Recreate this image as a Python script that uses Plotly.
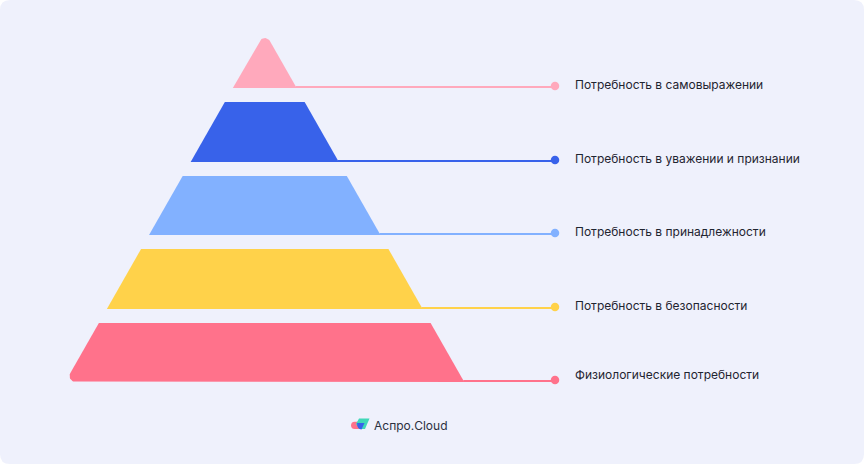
import numpy as np
import plotly.graph_objects as go

####################################################
# Pyramid levels, top to bottom
levels = ["Потребность в самовыражении", "Потребность в уважении и признании",
          "Потребность в принадлежности", "Потребность в безопасности",
          "Физиологические потребности"]
tier_tops = [32, 102, 176, 249, 323]
tier_bottoms = [88, 162, 235, 309, 382]
line_levels = [87, 161, 234, 308, 381]
dot_levels = [86, 160, 233, 307, 380]
label_levels = [84, 158, 231, 305, 374]
colors = ["#FFA9BC", "#3862EA", "#82B1FF", "#FFD24A", "#FF728B"]
brand = "Аспро.Cloud"

W, H = 864, 464
CENTER = 264.75      # pyramid axis
APEX = 32            # y where the sides would meet
SLOPE = 0.57         # half width per pixel of height
LINE_END = 555
LABEL_X = 573
BG = "#EFF1FC"


def side(y, sign):
    return CENTER + sign*SLOPE*(y-APEX)


def rounded(pts, corners):
    # replace the corners listed in dict {index: radius} with a circular fillet
    out = []
    n = len(pts)
    for i, p in enumerate(pts):
        p = np.array(p, dtype=float)
        if i not in corners:
            out.append(p)
            continue
        u = np.array(pts[i-1], dtype=float) - p
        v = np.array(pts[(i+1) % n], dtype=float) - p
        u, v = u/np.linalg.norm(u), v/np.linalg.norm(v)
        half = np.arccos(np.dot(u, v))/2
        r = corners[i]
        mid = (u+v)/np.linalg.norm(u+v)
        c = p + mid*r/np.sin(half)
        a0 = np.arctan2(*(p + u*r/np.tan(half) - c)[::-1])
        a1 = np.arctan2(*(p + v*r/np.tan(half) - c)[::-1])
        da = (a1-a0+np.pi) % (2*np.pi) - np.pi
        for a in a0 + da*np.linspace(0, 1, 16):
            out.append(c + r*np.array([np.cos(a), np.sin(a)]))
    return np.array(out)


def rrect(x0, y0, x1, y1, r):
    return (f"M{x0+r},{y0} L{x1-r},{y0} Q{x1},{y0} {x1},{y0+r} L{x1},{y1-r} Q{x1},{y1} {x1-r},{y1} "
            f"L{x0+r},{y1} Q{x0},{y1} {x0},{y1-r} L{x0},{y0+r} Q{x0},{y0} {x0+r},{y0} Z")


fig = go.Figure()

for i, name in enumerate(levels):
    top, bot = tier_tops[i], tier_bottoms[i]
    if i == 0:
        # apex tier: sides meet, tip is rounded
        pts = rounded([(side(bot, -1), bot), (CENTER, top), (side(bot, 1), bot)], {1: 5.9})
    else:
        corners = {3: 6} if i == len(levels)-1 else {}
        pts = rounded([(side(top, -1), top), (side(top, 1), top), (side(bot, 1), bot), (side(bot, -1), bot)], corners)
    fig.add_trace(go.Scatter(x=pts[:, 0], y=pts[:, 1], mode="lines", fill="toself", fillcolor=colors[i],
                             line=dict(width=0, color=colors[i]), hoverinfo="skip"))
    # leader line with end dot
    fig.add_trace(go.Scatter(x=[side(bot, 1)-1, LINE_END], y=[line_levels[i], line_levels[i]], mode="lines",
                             line=dict(width=2, color=colors[i]), hoverinfo="skip"))
    fig.add_trace(go.Scatter(x=[LINE_END], y=[dot_levels[i]], mode="markers",
                             marker=dict(size=8.5, color=colors[i]), hoverinfo="skip"))
    fig.add_annotation(text=name, x=LABEL_X, y=label_levels[i], xanchor="left", yanchor="middle", showarrow=False,
                       font=dict(family="Inter", size=12, color="#1F2430"))

# logo mark
fig.add_shape(type="path", path="M354.5,421.7 L358.5,421.7 L360,429 L354.5,429 Q351,428.8 351,425.3 Q351,422 354.5,421.7 Z",
              fillcolor="#FF728B", line_width=0)
fig.add_shape(type="path", path="M359,418.5 L369.5,418.5 L365,429 L360,429 L356,424 Z", fillcolor="#40D8B8", line_width=0)
fig.add_shape(type="path", path="M357,423 L364.5,423 L361.5,429.5 Q357,429 357,423 Z",
              fillcolor="#3862EA", line_width=0)
fig.add_annotation(text=brand, x=372, y=425, xanchor="left", yanchor="middle", showarrow=False,
                   font=dict(family="Inter", size=12, color="#2B3040", weight=400))

# page card behind everything
fig.add_shape(type="path", path=rrect(0, 0, W, H, 10), fillcolor=BG, line_width=0, layer="below")

fig.update_layout(width=W, height=H, margin=dict(l=0, r=0, t=0, b=0), paper_bgcolor="white", plot_bgcolor="white",
                  showlegend=False,
                  xaxis=dict(range=[0, W], visible=False, fixedrange=True),
                  yaxis=dict(range=[H, 0], visible=False, fixedrange=True))

# page has a default body margin, drop it so the card fills the window
fig.write_html("out.html", config=dict(displayModeBar=False),
               post_script="document.body.style.margin='0';document.body.style.overflow='hidden';")
